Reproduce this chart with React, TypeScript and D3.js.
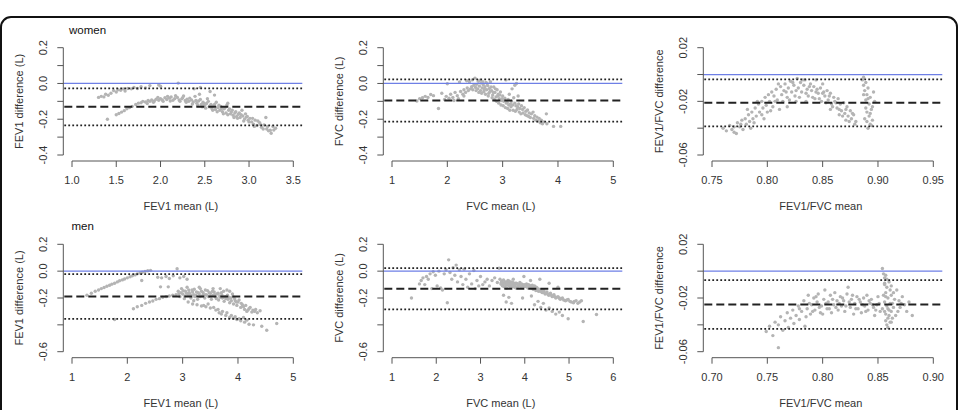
import * as d3 from "d3";
import { useEffect, useRef } from "react";

type Pt = [number, number];

// Bland-Altman points: [mean of the two measurements, difference]
const womenFev1: Pt[] = [
  [1.30, -0.078], [1.33, -0.072], [1.36, -0.075], [1.38, -0.060], [1.41, -0.066], [1.44, -0.055],
  [1.47, -0.040], [1.50, -0.048], [1.52, -0.035], [1.55, -0.038], [1.58, -0.030], [1.60, -0.042],
  [1.63, -0.028], [1.67, -0.030], [1.70, -0.022], [1.74, -0.028], [1.78, -0.018], [1.83, -0.025],
  [1.88, -0.012], [1.98, -0.008], [2.00, -0.015], [2.20, 0.002], [2.38, -0.030], [2.45, -0.022],
  [1.40, -0.200],
  [1.50, -0.175], [1.53, -0.168], [1.56, -0.160], [1.59, -0.152], [1.62, -0.142], [1.65, -0.135],
  [1.68, -0.128], [1.72, -0.118], [1.75, -0.110], [1.78, -0.108], [1.80, -0.100], [1.83, -0.104],
  [1.86, -0.095], [1.88, -0.100], [1.90, -0.092], [1.93, -0.098], [1.95, -0.088], [1.98, -0.094],
  [2.00, -0.085], [2.02, -0.092], [2.05, -0.080], [2.07, -0.090], [2.10, -0.082], [2.12, -0.075],
  [2.14, -0.094], [2.16, -0.085], [2.19, -0.078], [2.21, -0.092], [2.24, -0.086], [2.26, -0.070],
  [2.28, -0.095], [2.30, -0.088], [2.32, -0.100], [2.35, -0.092], [2.37, -0.104], [2.39, -0.072],
  [2.41, -0.110], [2.43, -0.098], [2.44, -0.060], [2.46, -0.118], [2.48, -0.105], [2.50, -0.125],
  [2.52, -0.112], [2.53, -0.085], [2.55, -0.130], [2.56, -0.045], [2.57, -0.118], [2.58, -0.140],
  [2.60, -0.125], [2.61, -0.065], [2.62, -0.145], [2.63, -0.105], [2.65, -0.135], [2.67, -0.150],
  [2.68, -0.128], [2.70, -0.158], [2.72, -0.142], [2.74, -0.165], [2.75, -0.120], [2.76, -0.110],
  [2.77, -0.150], [2.79, -0.170], [2.80, -0.160], [2.82, -0.178], [2.84, -0.165], [2.86, -0.185],
  [2.88, -0.172], [2.90, -0.190], [2.92, -0.150], [2.93, -0.182], [2.95, -0.198], [2.97, -0.188],
  [2.99, -0.205], [3.01, -0.195], [3.03, -0.215], [3.05, -0.228], [3.07, -0.205], [3.09, -0.235],
  [3.12, -0.220], [3.14, -0.245], [3.17, -0.232], [3.19, -0.190], [3.20, -0.255], [3.22, -0.265],
  [3.25, -0.278], [3.28, -0.260], [3.30, -0.250],
  [1.85, -0.112], [1.92, -0.105], [1.97, -0.078], [2.03, -0.100], [2.08, -0.072], [2.11, -0.098],
  [2.17, -0.068], [2.22, -0.100], [2.25, -0.080], [2.29, -0.105], [2.33, -0.082], [2.36, -0.115],
  [2.40, -0.095], [2.42, -0.122], [2.45, -0.090], [2.47, -0.130], [2.49, -0.112], [2.51, -0.138],
  [2.54, -0.100], [2.56, -0.125], [2.59, -0.150], [2.61, -0.118], [2.64, -0.158], [2.66, -0.122],
  [2.69, -0.140], [2.71, -0.170], [2.73, -0.135], [2.76, -0.175], [2.78, -0.142], [2.81, -0.150],
  [2.83, -0.190], [2.85, -0.158], [2.87, -0.195], [2.89, -0.165], [2.91, -0.175], [2.94, -0.210],
  [2.96, -0.170], [2.98, -0.185], [3.00, -0.215], [3.04, -0.195], [3.06, -0.240], [3.10, -0.210],
  [3.13, -0.230], [3.16, -0.255], [3.21, -0.240], [3.24, -0.262], [3.27, -0.240],
];

const womenFvc: Pt[] = [
  [1.45, -0.098], [1.50, -0.085], [1.55, -0.080], [1.60, -0.072], [1.65, -0.078], [1.70, -0.062],
  [1.75, -0.068], [1.84, -0.140], [1.90, -0.055], [1.95, -0.090], [1.98, -0.072], [2.00, -0.002],
  [2.03, -0.082], [2.06, -0.060], [2.10, -0.078], [2.14, -0.050], [2.18, -0.068], [2.22, 0.008],
  [2.24, -0.045], [2.28, -0.060], [2.30, -0.035], [2.33, -0.050], [2.36, -0.025], [2.38, -0.040],
  [2.40, 0.010], [2.42, -0.030], [2.44, -0.018], [2.46, -0.035], [2.48, -0.010], [2.50, 0.030],
  [2.51, -0.022], [2.53, -0.005], [2.55, -0.030], [2.56, 0.012], [2.58, -0.015], [2.60, -0.040],
  [2.61, 0.002], [2.63, -0.025], [2.65, -0.008], [2.66, -0.045], [2.68, -0.018], [2.70, 0.005],
  [2.71, -0.035], [2.73, -0.012], [2.75, -0.055], [2.76, -0.028], [2.78, 0.010], [2.80, -0.040],
  [2.82, -0.065], [2.84, -0.020], [2.86, -0.050], [2.88, -0.075], [2.90, -0.035], [2.92, -0.060],
  [2.94, -0.085], [2.96, -0.048], [2.98, -0.095], [3.00, -0.070], [3.02, -0.100], [3.04, -0.082],
  [3.06, 0.020], [3.08, -0.105], [3.10, -0.090], [3.12, -0.060], [3.14, -0.115], [3.16, -0.100],
  [3.18, -0.120], [3.20, -0.080], [3.22, -0.110], [3.24, -0.125], [3.25, 0.000], [3.27, -0.130],
  [3.29, -0.115], [3.31, -0.140], [3.34, -0.125], [3.36, -0.145], [3.39, -0.135], [3.42, -0.155],
  [3.45, -0.148], [3.48, -0.165], [3.52, -0.170], [3.55, -0.160], [3.58, -0.180], [3.62, -0.188],
  [3.66, -0.195], [3.70, -0.205], [3.74, -0.215], [3.79, -0.170], [3.80, -0.225], [3.92, -0.240],
  [4.05, -0.240],
  [2.52, -0.040], [2.57, -0.050], [2.59, 0.018], [2.62, -0.055], [2.64, 0.010], [2.67, -0.030],
  [2.69, -0.060], [2.72, 0.000], [2.74, -0.070], [2.77, -0.045], [2.79, -0.020], [2.81, -0.080],
  [2.83, -0.050], [2.85, -0.090], [2.87, -0.030], [2.89, -0.100], [2.91, -0.070], [2.93, -0.110],
  [2.95, -0.065], [2.97, -0.120], [2.99, -0.085], [3.01, -0.125], [3.03, -0.090], [3.05, -0.135],
  [3.07, -0.110], [3.09, -0.140], [3.11, -0.120], [3.13, -0.150], [3.15, -0.130], [3.19, -0.150],
  [3.23, -0.155], [3.26, -0.145], [3.30, -0.160], [3.33, -0.170], [3.37, -0.165], [3.41, -0.175],
  [3.44, -0.180], [3.47, -0.185], [3.50, -0.190], [3.56, -0.195], [3.60, -0.205], [3.64, -0.210],
  [3.68, -0.220], [3.72, -0.225], [2.30, -0.070], [2.20, -0.085], [2.12, -0.095], [2.35, 0.015],
  [2.45, 0.020], [3.17, -0.030], [3.28, -0.070], [3.22, -0.010],
];

const womenRatio: Pt[] = [
  [0.760, -0.040], [0.763, -0.042], [0.766, -0.038], [0.768, -0.041], [0.770, -0.043], [0.772, -0.044],
  [0.773, -0.036], [0.775, -0.039], [0.777, -0.034], [0.778, -0.041], [0.780, -0.033], [0.781, -0.037],
  [0.783, -0.030], [0.784, -0.035], [0.785, -0.040], [0.786, -0.028], [0.787, -0.033], [0.789, -0.025],
  [0.790, -0.031], [0.792, -0.022], [0.793, -0.028], [0.795, -0.020], [0.795, -0.030], [0.796, -0.025],
  [0.798, -0.017], [0.799, -0.023], [0.800, -0.028], [0.801, -0.015], [0.802, -0.020], [0.804, -0.013],
  [0.805, -0.024], [0.806, -0.016], [0.808, -0.011], [0.809, -0.019], [0.811, -0.026], [0.812, -0.009],
  [0.813, -0.015], [0.815, -0.012], [0.816, -0.007], [0.818, -0.017], [0.818, -0.024], [0.819, -0.010],
  [0.821, -0.005], [0.822, -0.013], [0.824, -0.008], [0.825, -0.016], [0.826, -0.020], [0.827, -0.003],
  [0.828, -0.010], [0.830, -0.006], [0.831, -0.013], [0.833, -0.008], [0.834, -0.004], [0.835, -0.020],
  [0.836, -0.011], [0.837, -0.016], [0.839, -0.007], [0.840, -0.012], [0.842, -0.009], [0.843, -0.018],
  [0.844, -0.004], [0.845, -0.011], [0.846, -0.014], [0.848, -0.010], [0.849, -0.020], [0.850, -0.007],
  [0.851, -0.013], [0.852, -0.016], [0.854, -0.012], [0.855, -0.019], [0.857, -0.014], [0.857, -0.026],
  [0.858, -0.022], [0.860, -0.017], [0.861, -0.020], [0.863, -0.025], [0.864, -0.018], [0.865, -0.030],
  [0.866, -0.022], [0.867, -0.027], [0.869, -0.021], [0.870, -0.029], [0.871, -0.034], [0.872, -0.024],
  [0.873, -0.031], [0.875, -0.027], [0.876, -0.033], [0.878, -0.030], [0.880, -0.035],
  [0.886, -0.004], [0.887, -0.008], [0.888, -0.012], [0.889, -0.006], [0.890, -0.015], [0.891, -0.010],
  [0.889, -0.019], [0.892, -0.022], [0.893, -0.017], [0.894, -0.026], [0.890, -0.028], [0.892, -0.031],
  [0.895, -0.034], [0.893, -0.037], [0.891, -0.040], [0.896, -0.013], [0.897, -0.020], [0.894, -0.038],
  [0.888, -0.033],
  [0.770, -0.039], [0.776, -0.037], [0.782, -0.026], [0.788, -0.036], [0.791, -0.020], [0.797, -0.033],
  [0.803, -0.027], [0.807, -0.020], [0.810, -0.007], [0.814, -0.020], [0.817, -0.013], [0.820, -0.019],
  [0.823, -0.006], [0.826, -0.012], [0.829, -0.017], [0.832, -0.004], [0.835, -0.014], [0.838, -0.009],
  [0.841, -0.017], [0.844, -0.013], [0.847, -0.018], [0.850, -0.014], [0.853, -0.021], [0.856, -0.016],
  [0.859, -0.024], [0.862, -0.021], [0.865, -0.026], [0.868, -0.031], [0.871, -0.026], [0.874, -0.035],
  [0.877, -0.029], [0.879, -0.037], [0.887, -0.015], [0.889, -0.025], [0.891, -0.018], [0.893, -0.029],
  [0.895, -0.024], [0.890, -0.035], [0.887, -0.002],
];

const menFev1: Pt[] = [
  [1.27, -0.180], [1.35, -0.165], [1.42, -0.150], [1.48, -0.140], [1.53, -0.130], [1.58, -0.122],
  [1.63, -0.112], [1.68, -0.105], [1.72, -0.097], [1.77, -0.090], [1.82, -0.080], [1.86, -0.072],
  [1.91, -0.065], [1.95, -0.058], [2.00, -0.050], [2.05, -0.042], [2.09, -0.035], [2.14, -0.028],
  [2.18, -0.020], [2.23, -0.014], [2.27, -0.008], [2.32, -0.002], [2.37, 0.003], [2.42, 0.006],
  [2.26, -0.070],
  [2.55, -0.045], [2.62, -0.050], [2.70, -0.040], [2.76, -0.055], [2.83, -0.035], [2.90, 0.018],
  [2.95, -0.050], [3.02, -0.040], [3.08, -0.060],
  [1.77, -0.360], [2.11, -0.280], [2.18, -0.265], [2.26, -0.255], [2.33, -0.240], [2.40, -0.230],
  [2.46, -0.222], [2.52, -0.210], [2.58, -0.205], [2.64, -0.195], [2.70, -0.190], [2.76, -0.185],
  [2.82, -0.180], [2.88, -0.175], [2.60, -0.117], [2.74, -0.117],
  [2.92, -0.150], [2.95, -0.190], [2.98, -0.130], [3.00, -0.170], [3.03, -0.205], [3.05, -0.150],
  [3.08, -0.120], [3.10, -0.180], [3.12, -0.160], [3.15, -0.200], [3.17, -0.140], [3.20, -0.175],
  [3.22, -0.190], [3.25, -0.155], [3.27, -0.210], [3.30, -0.170], [3.32, -0.130], [3.35, -0.185],
  [3.37, -0.160], [3.40, -0.200], [3.42, -0.175], [3.45, -0.145], [3.47, -0.190], [3.50, -0.165],
  [3.52, -0.210], [3.55, -0.180], [3.57, -0.155], [3.60, -0.195], [3.62, -0.170], [3.65, -0.215],
  [3.67, -0.185], [3.70, -0.160], [3.72, -0.200], [3.75, -0.225], [3.77, -0.190], [3.80, -0.140],
  [3.82, -0.210], [3.85, -0.235], [3.87, -0.200], [3.90, -0.170], [3.92, -0.245], [3.95, -0.220],
  [3.98, -0.255], [4.00, -0.230], [4.05, -0.270], [4.08, -0.250], [4.12, -0.285], [4.16, -0.300],
  [4.20, -0.280], [4.25, -0.305], [4.30, -0.300], [4.35, -0.310], [4.40, -0.295],
  [3.10, -0.230], [3.18, -0.245], [3.26, -0.250], [3.34, -0.260], [3.42, -0.265], [3.50, -0.275],
  [3.60, -0.290], [3.66, -0.310], [3.72, -0.300], [3.78, -0.330], [3.85, -0.345], [3.92, -0.350],
  [3.98, -0.360], [4.05, -0.370], [4.12, -0.380], [4.20, -0.395], [4.28, -0.400], [4.43, -0.410],
  [4.52, -0.440], [4.70, -0.390],
  [2.93, -0.170], [2.97, -0.160], [3.01, -0.145], [3.04, -0.185], [3.07, -0.165], [3.11, -0.140],
  [3.14, -0.175], [3.18, -0.155], [3.21, -0.135], [3.24, -0.180], [3.28, -0.160], [3.31, -0.190],
  [3.34, -0.150], [3.38, -0.175], [3.41, -0.140], [3.44, -0.180], [3.48, -0.160], [3.51, -0.185],
  [3.54, -0.150], [3.58, -0.175], [3.61, -0.205], [3.64, -0.165], [3.68, -0.195], [3.71, -0.180],
  [3.74, -0.150], [3.78, -0.205], [3.81, -0.180], [3.84, -0.195], [3.88, -0.220], [3.91, -0.190],
  [3.94, -0.205], [3.97, -0.230], [4.02, -0.215], [4.06, -0.240], [4.10, -0.265], [4.14, -0.255],
  [4.18, -0.290], [4.22, -0.270], [4.27, -0.290], [4.32, -0.285], [3.30, -0.120], [3.55, -0.130],
  [3.85, -0.150], [3.68, -0.130], [3.20, -0.220], [3.38, -0.255], [3.46, -0.245], [3.56, -0.270],
  [3.64, -0.285], [3.70, -0.320], [3.80, -0.310], [3.88, -0.330], [3.95, -0.340], [4.02, -0.355],
  [4.10, -0.345], [4.16, -0.365],
];

const menFvc: Pt[] = [
  [1.44, -0.200], [1.62, -0.095], [1.66, -0.070], [1.70, -0.050], [1.74, -0.100], [1.78, -0.040],
  [1.82, -0.060], [1.86, -0.020], [1.90, -0.130], [1.93, -0.005], [1.98, -0.030], [2.02, -0.110],
  [2.06, 0.000], [2.10, -0.125], [2.14, -0.140], [2.18, -0.020], [2.22, 0.010], [2.25, -0.235],
  [2.28, 0.084], [2.31, -0.010], [2.35, -0.060], [2.38, 0.025], [2.42, -0.030], [2.45, 0.045],
  [2.48, -0.080], [2.52, 0.010], [2.56, -0.040], [2.60, -0.100], [2.63, 0.015], [2.67, -0.060],
  [2.71, -0.120], [2.75, -0.020], [2.80, -0.095], [2.85, 0.005], [2.88, -0.130], [2.92, -0.070],
  [2.96, -0.110], [3.00, -0.040], [3.05, -0.100], [3.10, -0.080], [3.15, -0.060], [3.20, -0.110],
  [3.26, -0.070], [3.32, -0.050], [3.38, -0.085], [3.42, 0.022], [3.44, -0.060],
  [3.46, -0.095], [3.48, -0.075], [3.50, -0.110], [3.52, -0.065], [3.54, -0.090], [3.56, -0.120],
  [3.58, -0.080], [3.60, -0.100], [3.62, -0.070], [3.64, -0.110], [3.66, -0.090], [3.68, -0.120],
  [3.70, -0.080], [3.72, -0.100], [3.74, -0.060], [3.76, -0.110], [3.78, -0.090], [3.80, -0.125],
  [3.83, -0.095], [3.86, -0.110], [3.89, -0.085], [3.92, -0.120], [3.95, -0.100], [3.98, -0.040],
  [4.01, -0.115], [4.04, -0.095], [4.07, -0.125], [4.10, -0.105], [4.13, -0.070], [4.16, -0.120],
  [4.19, -0.135], [4.22, -0.110], [4.25, -0.145], [4.28, -0.125], [4.31, -0.150], [4.34, -0.060],
  [4.37, -0.140], [4.40, -0.160], [4.43, -0.145], [4.46, -0.170], [4.50, -0.155], [4.54, -0.180],
  [4.58, -0.165], [4.62, -0.190], [4.66, -0.175], [4.70, -0.200], [4.75, -0.190], [4.80, -0.210],
  [4.85, -0.200], [4.92, -0.220], [4.98, -0.210], [5.05, -0.230], [5.12, -0.225], [5.20, -0.240],
  [5.28, -0.220], [4.55, -0.090], [4.75, -0.120],
  [3.52, -0.180], [3.58, -0.230], [3.64, -0.195], [3.70, -0.240], [3.95, -0.200], [4.15, -0.185],
  [4.22, -0.250], [4.30, -0.225], [4.36, -0.270], [4.42, -0.240], [4.48, -0.290], [4.55, -0.275],
  [4.62, -0.300], [4.70, -0.320], [4.78, -0.305], [4.85, -0.330], [4.98, -0.355], [5.32, -0.375],
  [5.62, -0.323],
  [3.47, -0.085], [3.49, -0.105], [3.51, -0.090], [3.53, -0.115], [3.55, -0.080], [3.57, -0.100],
  [3.59, -0.125], [3.61, -0.090], [3.63, -0.100], [3.65, -0.075], [3.67, -0.105], [3.69, -0.095],
  [3.71, -0.115], [3.73, -0.085], [3.75, -0.100], [3.77, -0.120], [3.79, -0.100], [3.81, -0.090],
  [3.84, -0.115], [3.87, -0.100], [3.90, -0.110], [3.93, -0.095], [3.96, -0.115], [3.99, -0.100],
  [4.02, -0.105], [4.05, -0.115], [4.08, -0.100], [4.11, -0.120], [4.14, -0.110], [4.17, -0.105],
  [4.20, -0.125], [4.23, -0.130], [4.26, -0.120], [4.29, -0.140], [4.32, -0.135], [4.35, -0.150],
  [4.38, -0.155], [4.41, -0.150], [4.44, -0.160], [4.48, -0.165], [4.52, -0.170], [4.56, -0.175],
  [4.60, -0.180], [4.64, -0.185], [4.68, -0.190], [4.72, -0.195], [4.78, -0.200], [4.83, -0.205],
  [4.88, -0.215], [4.95, -0.215], [5.02, -0.225], [5.10, -0.235], [5.16, -0.220], [5.24, -0.230],
];

const menRatio: Pt[] = [
  [0.749, -0.045], [0.752, -0.041], [0.755, -0.048], [0.757, -0.038], [0.760, -0.057], [0.760, -0.040],
  [0.762, -0.034], [0.764, -0.044], [0.766, -0.037], [0.768, -0.031], [0.769, -0.042], [0.771, -0.035],
  [0.773, -0.029], [0.774, -0.039], [0.776, -0.033], [0.778, -0.026], [0.779, -0.036], [0.781, -0.030],
  [0.783, -0.022], [0.784, -0.041], [0.786, -0.028], [0.787, -0.018], [0.789, -0.032], [0.790, -0.025],
  [0.792, -0.020], [0.793, -0.029], [0.795, -0.023], [0.796, -0.017], [0.798, -0.031], [0.799, -0.026],
  [0.801, -0.021], [0.802, -0.014], [0.804, -0.028], [0.805, -0.023], [0.807, -0.018], [0.808, -0.031],
  [0.810, -0.025], [0.811, -0.016], [0.813, -0.022], [0.814, -0.029], [0.816, -0.019], [0.817, -0.026],
  [0.819, -0.022], [0.820, -0.030], [0.822, -0.017], [0.823, -0.012], [0.825, -0.027], [0.826, -0.021],
  [0.828, -0.032], [0.829, -0.024], [0.831, -0.019], [0.832, -0.028], [0.834, -0.023], [0.835, -0.031],
  [0.837, -0.020], [0.838, -0.026], [0.840, -0.018], [0.841, -0.029], [0.843, -0.024], [0.844, -0.021],
  [0.846, -0.027], [0.847, -0.033], [0.849, -0.025], [0.850, -0.019], [0.852, -0.030],
  [0.854, 0.002], [0.855, -0.002], [0.856, -0.005], [0.857, -0.003], [0.856, -0.009], [0.858, -0.012],
  [0.857, -0.016], [0.859, -0.020], [0.856, -0.023], [0.858, -0.026], [0.860, -0.029], [0.857, -0.032],
  [0.859, -0.035], [0.861, -0.038], [0.858, -0.040], [0.860, -0.008], [0.861, -0.014], [0.862, -0.018],
  [0.863, -0.024], [0.862, -0.030], [0.864, -0.027], [0.865, -0.021], [0.866, -0.033], [0.855, -0.018],
  [0.854, -0.028],
  [0.867, -0.014], [0.869, -0.022], [0.870, -0.027], [0.872, -0.019], [0.874, -0.025], [0.876, -0.030],
  [0.878, -0.023], [0.881, -0.033],
  [0.779, -0.028], [0.785, -0.034], [0.788, -0.024], [0.791, -0.030], [0.794, -0.019], [0.797, -0.027],
  [0.800, -0.032], [0.803, -0.024], [0.806, -0.028], [0.809, -0.021], [0.812, -0.027], [0.815, -0.024],
  [0.818, -0.020], [0.821, -0.026], [0.824, -0.023], [0.827, -0.018], [0.830, -0.028], [0.833, -0.021],
  [0.836, -0.025], [0.839, -0.030], [0.842, -0.022], [0.845, -0.025], [0.848, -0.029], [0.851, -0.024],
  [0.856, -0.010], [0.857, -0.019], [0.858, -0.006], [0.859, -0.028], [0.860, -0.033], [0.861, -0.024],
  [0.862, -0.011], [0.863, -0.035], [0.864, -0.016], [0.857, -0.037], [0.859, -0.042], [0.856, -0.030],
  [0.862, -0.038], [0.868, -0.030], [0.871, -0.024],
];

// mean difference and limits of agreement, panel order: women FEV1, FVC, ratio, men FEV1, FVC, ratio
const meanDiff = [-0.1305, -0.095, -0.0211, -0.189, -0.131, -0.0249];
const upperLimit = [-0.027, 0.023, -0.0036, -0.022, 0.022, -0.0067];
const lowerLimit = [-0.234, -0.213, -0.0386, -0.356, -0.284, -0.043];

// axis ticks
const womenFev1Ticks = [1.0, 1.5, 2.0, 2.5, 3.0, 3.5];
const womenFvcTicks = [1, 2, 3, 4, 5];
const womenRatioTicks = [0.75, 0.8, 0.85, 0.9, 0.95];
const menFev1Ticks = [1, 2, 3, 4, 5];
const menFvcTicks = [1, 2, 3, 4, 5, 6];
const menRatioTicks = [0.7, 0.75, 0.8, 0.85, 0.9];

const womenLitreTicks = [0.2, 0.1, 0.0, -0.1, -0.2, -0.3, -0.4];
const womenLitreLabels = ["0.2", "", "0.0", "", "-0.2", "", "-0.4"];
const menLitreTicks = [0.2, 0.0, -0.2, -0.4, -0.6];
const menLitreLabels = ["0.2", "0.0", "-0.2", "", "-0.6"];
const ratioTicks = [0.02, 0.0, -0.02, -0.04, -0.06];
const ratioLabels = ["0.02", "", "-0.02", "", "-0.06"];

const panels = [
  { col: 0, row: 0, tag: "women", pts: womenFev1, xTicks: womenFev1Ticks, xFmt: ".1f", yTicks: womenLitreTicks, yLabels: womenLitreLabels, xTitle: "FEV1 mean (L)", yTitle: "FEV1 difference (L)" },
  { col: 1, row: 0, tag: "", pts: womenFvc, xTicks: womenFvcTicks, xFmt: "d", yTicks: womenLitreTicks, yLabels: womenLitreLabels, xTitle: "FVC mean (L)", yTitle: "FVC difference (L)" },
  { col: 2, row: 0, tag: "", pts: womenRatio, xTicks: womenRatioTicks, xFmt: ".2f", yTicks: ratioTicks, yLabels: ratioLabels, xTitle: "FEV1/FVC mean", yTitle: "FEV1/FVC difference" },
  { col: 0, row: 1, tag: "men", pts: menFev1, xTicks: menFev1Ticks, xFmt: "d", yTicks: menLitreTicks, yLabels: menLitreLabels, xTitle: "FEV1 mean (L)", yTitle: "FEV1 difference (L)" },
  { col: 1, row: 1, tag: "", pts: menFvc, xTicks: menFvcTicks, xFmt: "d", yTicks: menLitreTicks, yLabels: menLitreLabels, xTitle: "FVC mean (L)", yTitle: "FVC difference (L)" },
  { col: 2, row: 1, tag: "", pts: menRatio, xTicks: menRatioTicks, xFmt: ".2f", yTicks: ratioTicks, yLabels: ratioLabels, xTitle: "FEV1/FVC mean", yTitle: "FEV1/FVC difference" },
];

const FONT = "'Liberation Sans', Arial, Helvetica, sans-serif";
const rows = [
  { top: 47.7, bottom: 155 },
  { top: 244.3, bottom: 351.7 },
];

export default function App() {
  const svgRef = useRef<SVGSVGElement>(null);

  useEffect(() => {
    if (!svgRef.current) return;
    const svg = d3.select(svgRef.current);
    svg.selectAll("*").remove();

    // outer rounded frame
    svg
      .append("rect")
      .attr("x", 1)
      .attr("y", 17)
      .attr("width", 956)
      .attr("height", 430)
      .attr("rx", 10)
      .attr("fill", "none")
      .attr("stroke", "#111")
      .attr("stroke-width", 2);

    panels.forEach((p, i) => {
      const cx = p.col * 320;
      const r = rows[p.row];
      const left = cx + 63.3;
      const right = cx + 302.3;
      const axisY = r.bottom + 6;

      const x = d3
        .scaleLinear()
        .domain([p.xTicks[0], p.xTicks[p.xTicks.length - 1]])
        .range([cx + 72, cx + 293.3]);
      const y = d3
        .scaleLinear()
        .domain([p.yTicks[0], p.yTicks[p.yTicks.length - 1]])
        .range([r.top, r.bottom]);

      const g = svg.append("g");

      // points
      g.selectAll("circle")
        .data(p.pts)
        .join("circle")
        .attr("cx", (d) => x(d[0]))
        .attr("cy", (d) => y(d[1]))
        .attr("r", 1.7)
        .attr("fill", "#b4b4b4");

      // zero line
      g.append("line")
        .attr("x1", left)
        .attr("x2", right)
        .attr("y1", y(0))
        .attr("y2", y(0))
        .attr("stroke", "#6e7fe6")
        .attr("stroke-width", 1.2);

      // limits of agreement (dotted) and mean difference (dashed)
      [upperLimit[i], lowerLimit[i]].forEach((v) => {
        g.append("line")
          .attr("x1", left + 1)
          .attr("x2", right)
          .attr("y1", y(v))
          .attr("y2", y(v))
          .attr("stroke", "#222")
          .attr("stroke-width", 1.8)
          .attr("stroke-dasharray", "1.8 2.2");
      });
      g.append("line")
        .attr("x1", left + 1)
        .attr("x2", right)
        .attr("y1", y(meanDiff[i]))
        .attr("y2", y(meanDiff[i]))
        .attr("stroke", "#222")
        .attr("stroke-width", 2)
        .attr("stroke-dasharray", "8 4");

      // y axis
      g.append("line")
        .attr("x1", left)
        .attr("x2", left)
        .attr("y1", r.top)
        .attr("y2", r.bottom)
        .attr("stroke", "#555");
      p.yTicks.forEach((v, k) => {
        g.append("line")
          .attr("x1", left - 6)
          .attr("x2", left)
          .attr("y1", y(v))
          .attr("y2", y(v))
          .attr("stroke", "#555");
        if (p.yLabels[k]) {
          g.append("text")
            .attr("transform", `translate(${left - 16},${y(v)}) rotate(-90)`)
            .attr("text-anchor", "middle")
            .attr("font-family", FONT)
            .attr("font-size", 11)
            .attr("fill", "#333")
            .text(p.yLabels[k]);
        }
      });

      // x axis
      g.append("line")
        .attr("x1", x(p.xTicks[0]))
        .attr("x2", x(p.xTicks[p.xTicks.length - 1]))
        .attr("y1", axisY)
        .attr("y2", axisY)
        .attr("stroke", "#555");
      const fmt = d3.format(p.xFmt);
      p.xTicks.forEach((v) => {
        g.append("line")
          .attr("x1", x(v))
          .attr("x2", x(v))
          .attr("y1", axisY)
          .attr("y2", axisY + 6)
          .attr("stroke", "#555");
        g.append("text")
          .attr("x", x(v))
          .attr("y", axisY + 23)
          .attr("text-anchor", "middle")
          .attr("font-family", FONT)
          .attr("font-size", 11)
          .attr("fill", "#333")
          .text(fmt(v));
      });

      // axis titles
      g.append("text")
        .attr("x", (left + right) / 2 - 2)
        .attr("y", axisY + 49)
        .attr("text-anchor", "middle")
        .attr("font-family", FONT)
        .attr("font-size", 11)
        .attr("fill", "#333")
        .text(p.xTitle);
      g.append("text")
        .attr("transform", `translate(${cx + 22.5},${(r.top + r.bottom) / 2}) rotate(-90)`)
        .attr("text-anchor", "middle")
        .attr("font-family", FONT)
        .attr("font-size", 11)
        .attr("fill", "#333")
        .text(p.yTitle);

      if (p.tag) {
        g.append("text")
          .attr("x", p.row === 0 ? cx + 69 : cx + 71.5)
          .attr("y", r.top - 14)
          .attr("font-family", FONT)
          .attr("font-size", 11.5)
          .attr("fill", "#111")
          .text(p.tag);
      }
    });
  }, []);

  return (
    <svg
      ref={svgRef}
      width={961}
      height={410}
      style={{ position: "absolute", left: 0, top: 0, background: "#fff" }}
    />
  );
}
